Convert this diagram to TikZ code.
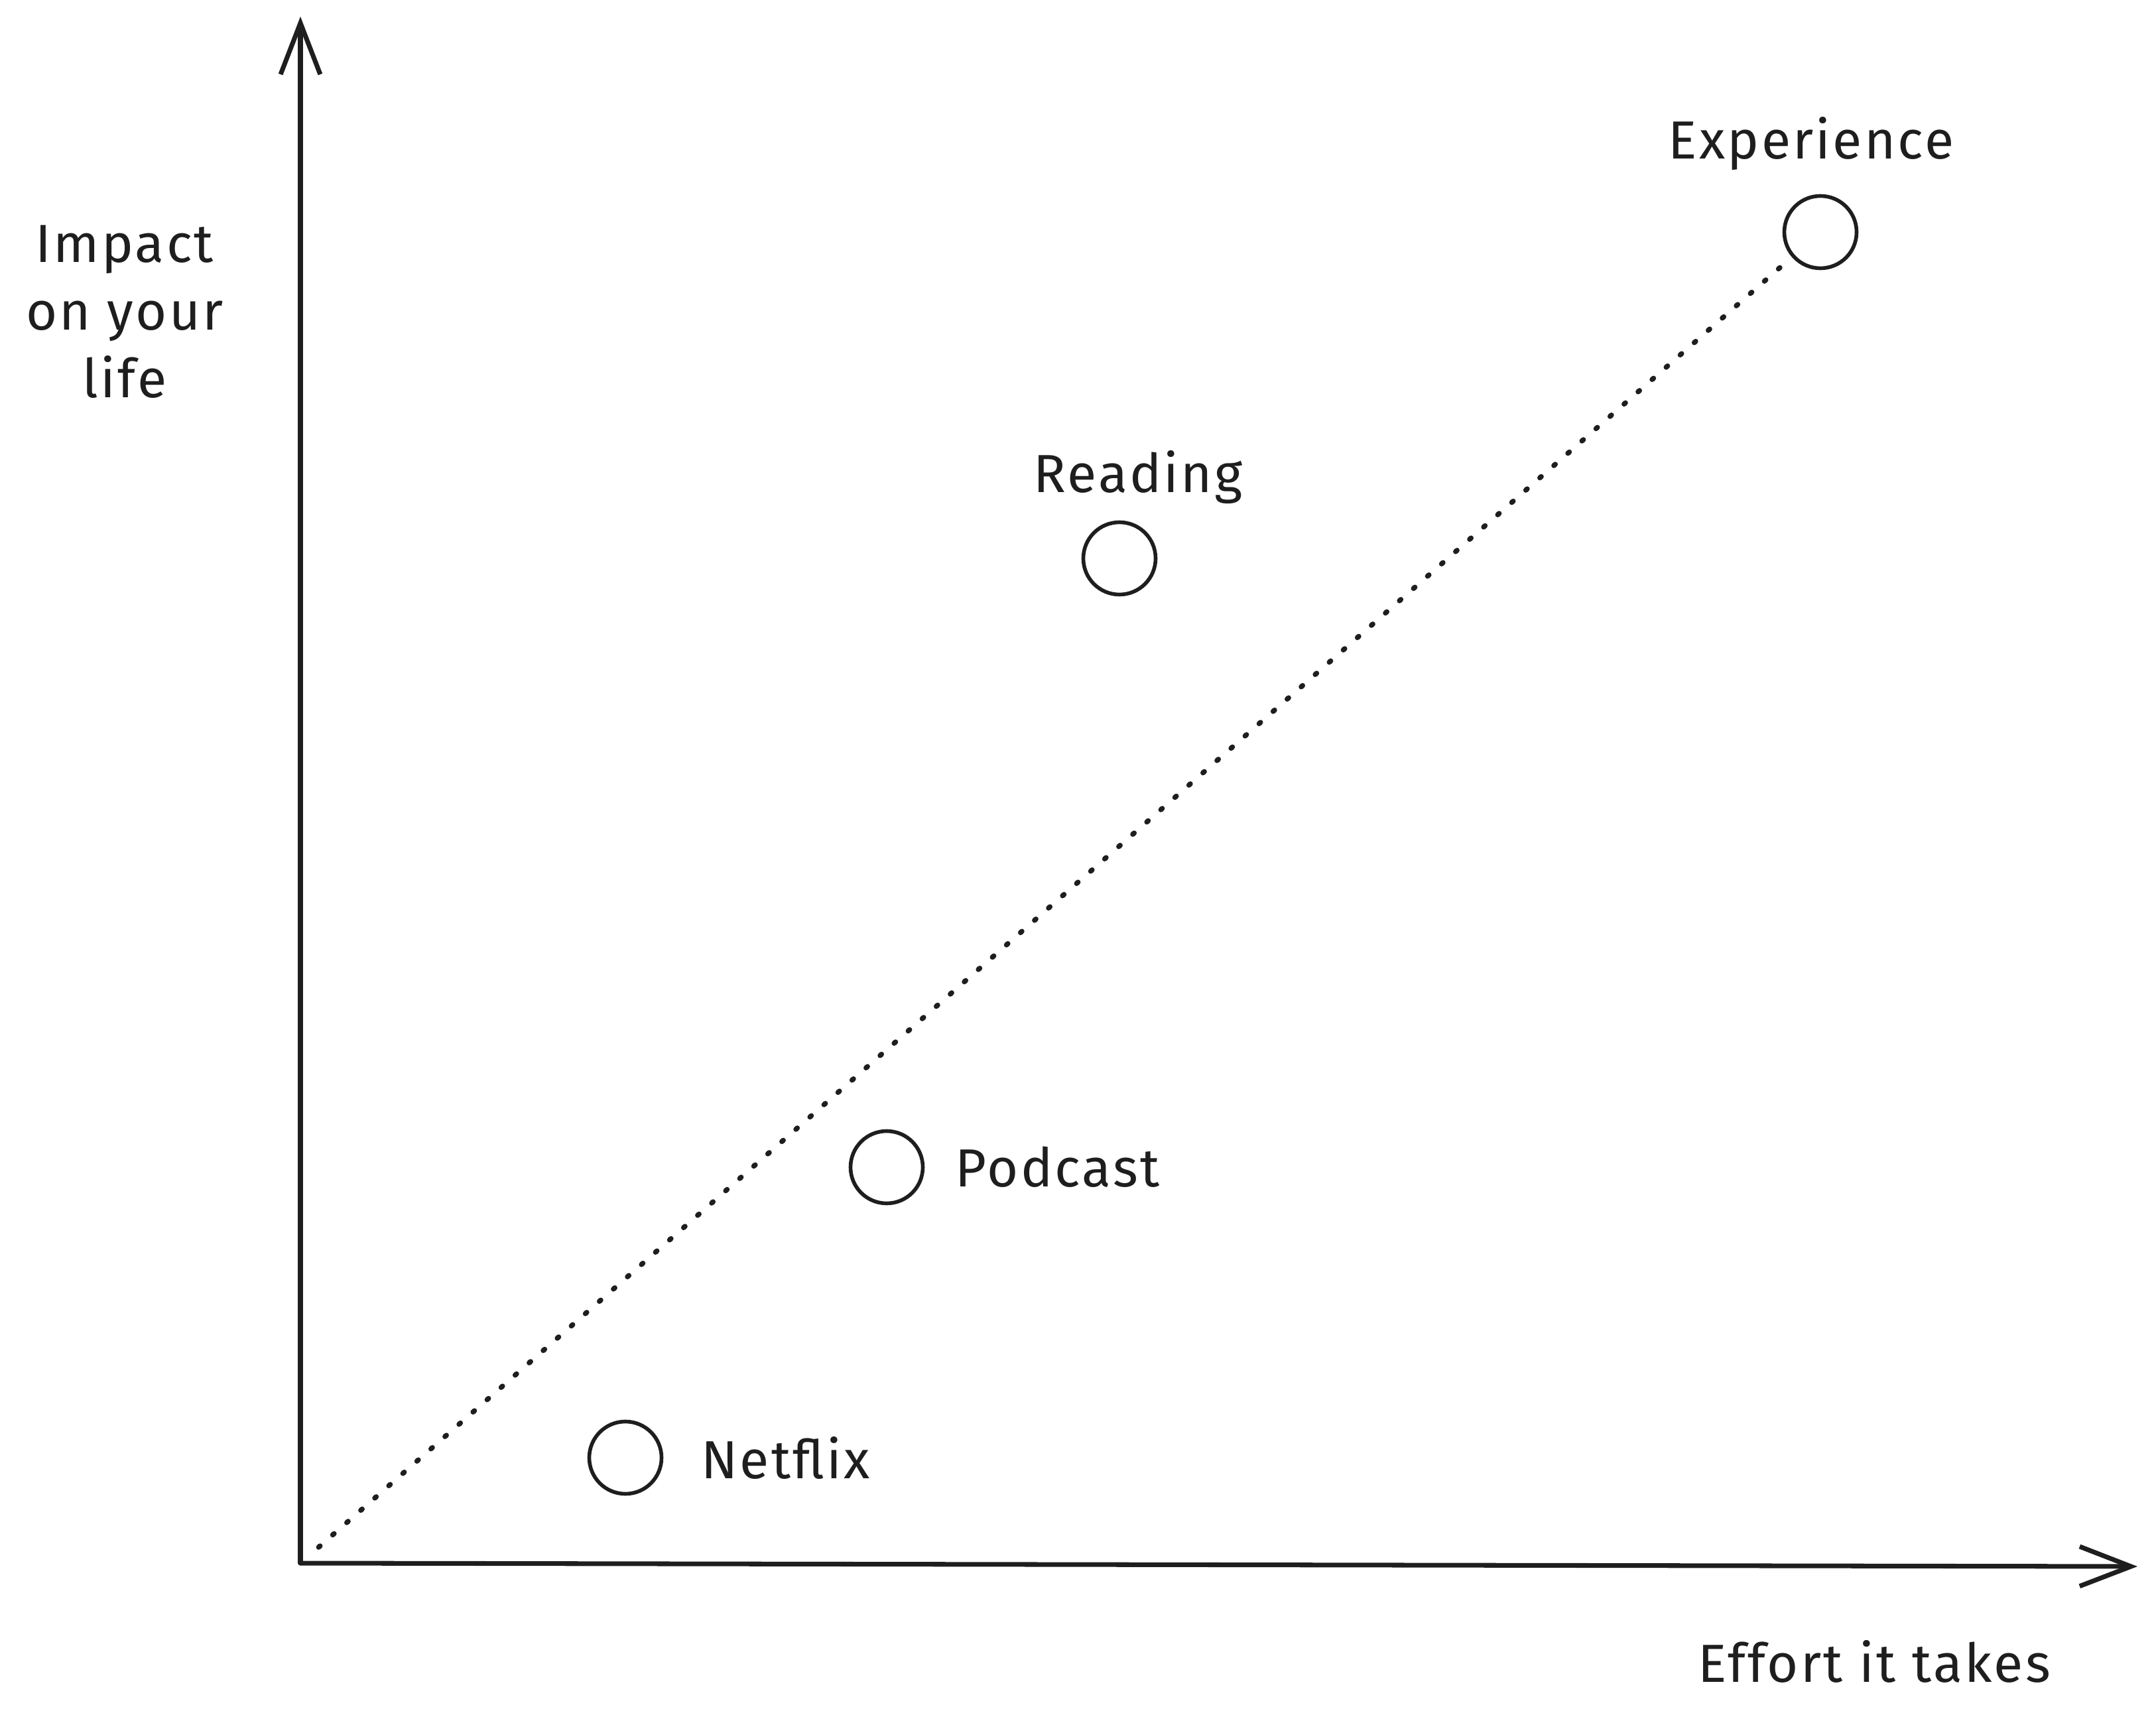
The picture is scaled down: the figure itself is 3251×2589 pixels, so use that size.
\documentclass[tikz,border=0pt]{standalone}
\usepackage{fontspec}
\setmainfont{Fira Sans}
\usepackage{xcolor}
\usepackage{tikz}
\usetikzlibrary{arrows.meta,positioning,calc}
\definecolor{ink}{HTML}{1E1E1E}
\tikzset{
  ax/.style={draw=ink,line width=2pt,line cap=round,-{Straight Barb[length=22pt,width=17pt,line width=2pt]}},
  dot/.style={circle,draw=ink,line width=1.6pt,minimum size=31pt,inner sep=0pt},
  lbl/.style={font=\fontsize{23}{29}\selectfont\addfontfeatures{LetterSpace=4},text=ink,inner sep=2pt,align=center},
  trend/.style={draw=ink,line width=2.2pt,line cap=round,dash pattern=on 0.8pt off 7.2pt},
}
\begin{document}
\begin{tikzpicture}[x=0.01cm,y=-0.01cm]
\useasboundingbox (0,0) rectangle (3251,2589);
\coordinate (o) at (453,2357);
\coordinate (ytop) at (453,25);
\coordinate (xend) at (3223,2362);
\draw[ax] (o)--(ytop);
\draw[ax] (o)--(xend);
% items
\foreach \n/\x/\y in {exp/2745/350,rdg/1688/842,pod/1337/1760,net/943/2198} {\node[dot] (\n) at (\x,\y) {};}
\draw[trend] ($(o)!0.012!(exp)$)--(exp);
\node[lbl,above=15pt of exp.north,anchor=base,xshift=-4pt] (lexp) {Experience};
\node[lbl,above=12pt of rdg.north,anchor=base,xshift=8pt] (lrdg) {Reading};
\node[lbl,right=11pt of pod,anchor=west] (lpod) {Podcast};
\node[lbl,right=14pt of net,anchor=west] (lnet) {Netflix};
\node[lbl] (limp) at (188,470) {Impact\\on your\\life};
\node[lbl] (leff) at (2826,2505) {Effort it takes};
\end{tikzpicture}
\end{document}
